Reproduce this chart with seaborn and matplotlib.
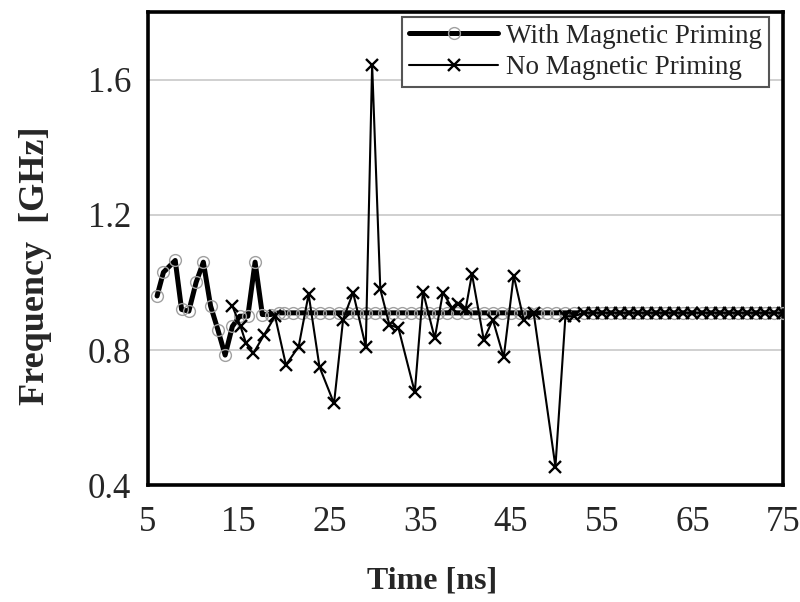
import numpy as np
import pandas as pd
import matplotlib
matplotlib.use("Agg")
import matplotlib.pyplot as plt
import seaborn as sns

# ---- data ----
t_with_early = [6.0, 6.7, 8.0, 8.7, 9.5, 10.3, 11.1, 11.9, 12.7, 13.5, 14.3, 15.1, 16.0, 16.8, 17.6, 18.5, 19.4]
f_with_early = [0.96, 1.03, 1.065, 0.92, 0.915, 1.00, 1.06, 0.93, 0.86, 0.785, 0.87, 0.90, 0.90, 1.06, 0.905, 0.905, 0.91]
t_with_late = list(range(20, 76))
f_with_late = [0.91] * len(t_with_late)

t_no_early = [14.3, 15.2, 15.8, 16.6, 17.8, 19.0, 20.2, 21.6, 22.7, 23.9, 25.5, 26.5, 27.6, 29.0,
              29.7, 30.6, 31.6, 32.6, 34.4, 35.3, 36.6, 37.5, 38.5, 39.2, 40.0, 40.7, 42.0, 43.0,
              44.2, 45.3, 46.4, 47.5, 49.9, 51.0, 52.0]
f_no_early = [0.93, 0.87, 0.82, 0.79, 0.845, 0.90, 0.756, 0.81, 0.965, 0.75, 0.642, 0.89, 0.97, 0.81,
              1.644, 0.98, 0.875, 0.865, 0.675, 0.973, 0.835, 0.97, 0.925, 0.935, 0.92, 1.025, 0.83, 0.89,
              0.778, 1.02, 0.89, 0.91, 0.455, 0.90, 0.90]
t_no_late = list(range(53, 76))
f_no_late = [0.91] * len(t_no_late)

x_ticks = [5, 15, 25, 35, 45, 55, 65, 75]
y_ticks = [0.4, 0.8, 1.2, 1.6]
label_with = "With Magnetic Priming"
label_no = "No Magnetic Priming"

df_with = pd.DataFrame({"t": t_with_early + t_with_late, "f": f_with_early + f_with_late})
df_no = pd.DataFrame({"t": t_no_early + t_no_late, "f": f_no_early + f_no_late})

sns.set_style("white")
plt.rcParams["font.family"] = ["Liberation Serif", "DejaVu Serif"]

fig = plt.figure(figsize=(8.0, 6.02), dpi=100)
ax = fig.add_axes([0.185, 0.194, 0.794, 0.786])

sns.lineplot(data=df_with, x="t", y="f", ax=ax, sort=False, estimator=None,
             color="black", linewidth=3.6, marker="o", markersize=8.5,
             markerfacecolor="none", markeredgecolor="#a0a0a0", markeredgewidth=1.0,
             label=label_with, zorder=3)
sns.lineplot(data=df_no, x="t", y="f", ax=ax, sort=False, estimator=None,
             color="black", linewidth=1.5, marker="x", markersize=9,
             markeredgecolor="black", markeredgewidth=1.7,
             label=label_no, zorder=4)

ax.set_xlim(5, 75)
ax.set_ylim(0.4, 1.8)
ax.set_xticks(x_ticks)
ax.set_yticks(y_ticks)
ax.set_yticklabels([f"{v:.1f}" for v in y_ticks])
ax.set_xticklabels([str(v) for v in x_ticks])
ax.yaxis.grid(True, color="#c8c8c8", linewidth=1.2)
ax.set_axisbelow(True)
ax.tick_params(axis="both", direction="in", length=7, width=2, labelsize=25, color="black")
ax.tick_params(axis="x", pad=15)
ax.tick_params(axis="y", pad=12)
for s in ax.spines.values():
    s.set_linewidth(2.6)
    s.set_color("black")

ax.set_xlabel("Time [ns]", fontsize=23, fontweight="bold")
ax.set_ylabel("Frequency  [GHz]", fontsize=26, fontweight="bold")
ax.xaxis.set_label_coords(0.447, -0.171)
ax.yaxis.set_label_coords(-0.151, 0.463)

leg = ax.legend(loc="upper right", bbox_to_anchor=(0.978, 0.99), borderaxespad=0,
                fontsize=19.5, frameon=True, fancybox=False, framealpha=1,
                edgecolor="#555555", handlelength=3.3, handletextpad=0.3,
                borderpad=0.25, labelspacing=0.25)
leg.get_frame().set_linewidth(1.5)

fig.savefig("out.png", dpi=100)
